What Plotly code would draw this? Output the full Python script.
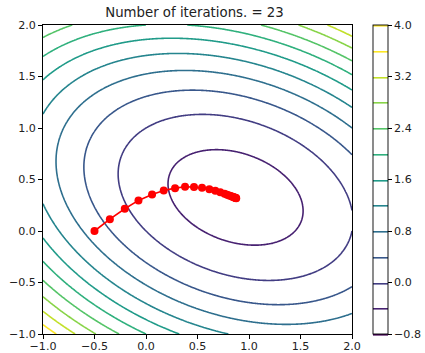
import numpy as np
import plotly.graph_objects as go

# quadratic f(p) = 0.5 p^T A p - b^T p
A = [[1.0, 0.4], [0.4, 2.0]]
b = [1.0, 1.0]

levels_start = -0.8
levels_end = 4.0
levels_step = 0.4
cbar_ticks = [-0.8, 0.0, 0.8, 1.6, 2.4, 3.2, 4.0]
axis_ticks = [-1.0, -0.5, 0.0, 0.5, 1.0, 1.5, 2.0]

path_x = [-0.500, -0.351, -0.206, -0.073, 0.059, 0.172, 0.282, 0.379, 0.466,
          0.544, 0.615, 0.673, 0.721, 0.763, 0.787, 0.807, 0.824, 0.838,
          0.849, 0.858, 0.864, 0.869, 0.873, 0.876]
path_y = [0.000, 0.115, 0.216, 0.297, 0.355, 0.394, 0.416, 0.429, 0.426,
          0.419, 0.406, 0.390, 0.377, 0.361, 0.352, 0.345, 0.339, 0.333,
          0.329, 0.326, 0.324, 0.322, 0.320, 0.319]
n_iter = 23

gx = np.linspace(-1, 2, 301)
gy = np.linspace(-1, 2, 301)
X, Y = np.meshgrid(gx, gy)
Z = 0.5 * (A[0][0] * X**2 + 2 * A[0][1] * X * Y + A[1][1] * Y**2) - (b[0] * X + b[1] * Y)

TICK_FONT = dict(family="DejaVu Sans", size=11.1, color="#222")

fig = go.Figure()
fig.add_trace(go.Contour(
    x=gx, y=gy, z=Z,
    zmin=levels_start, zmax=levels_end, zauto=False,
    autocontour=False,
    contours=dict(start=levels_start, end=levels_end, size=levels_step, coloring="lines"),
    line=dict(width=1.6, smoothing=1),
    colorscale="Viridis",
    showscale=True,
    colorbar=dict(
        x=1.068, xanchor="left", xpad=0,
        y=0.5, yanchor="middle", len=1.0, lenmode="fraction",
        thickness=15, thicknessmode="pixels",
        outlinecolor="black", outlinewidth=0.9,
        tickvals=cbar_ticks, tickformat=".1f",
        ticks="outside", ticklen=3.9, tickwidth=0.9, tickcolor="black",
        tickfont=TICK_FONT,
        ypad=0,
    ),
    hoverinfo="skip",
))
fig.add_trace(go.Scatter(
    x=path_x, y=path_y, mode="lines+markers",
    line=dict(color="red", width=1.6),
    marker=dict(color="red", size=8),
    showlegend=False,
))

axis_common = dict(
    range=[-1, 2], showgrid=False, zeroline=False,
    showline=True, linecolor="black", linewidth=0.9, mirror=True,
    ticks="outside", ticklen=3.9, tickwidth=0.9, tickcolor="black",
    tickvals=axis_ticks, tickformat=".1f",
    tickfont=TICK_FONT,
)
fig.update_layout(
    width=425, height=353,
    margin=dict(l=43, r=73, t=25, b=19, pad=0, autoexpand=False),
    paper_bgcolor="white", plot_bgcolor="white",
    title=dict(text="Number of iterations. = %d" % n_iter, x=0.4576, xanchor="center",
               y=1 - 12.5 / 353, yanchor="middle",
               font=dict(family="DejaVu Sans", size=13.3, color="#222")),
    xaxis=dict(axis_common, ticklabelstandoff=-2),
    yaxis=axis_common,
    showlegend=False,
)
fig.write_html("out.html")
